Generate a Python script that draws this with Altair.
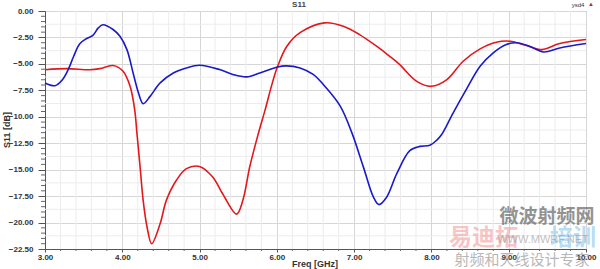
import altair as alt
import pandas as pd

# ---- data ----
red_f = [3.00, 3.28, 3.58, 3.71, 3.88, 4.01, 4.10, 4.16, 4.19, 4.23, 4.27, 4.32, 4.38,
         4.49, 4.57, 4.70, 4.83, 5.00, 5.17, 5.30, 5.48, 5.56, 5.65, 5.76, 5.85, 5.93,
         6.01, 6.13, 6.30, 6.62, 6.86, 7.07, 7.29, 7.46, 7.59, 7.81, 8.00, 8.20, 8.41,
         8.63, 8.84, 9.02, 9.23, 9.43, 9.66, 10.00]
red_v = [-5.55, -5.45, -5.55, -5.45, -5.16, -5.7, -7.1, -9.3, -11.6, -14.7, -17.9, -20.4, -22.0,
         -20.1, -17.9, -16.0, -14.9, -14.7, -15.7, -17.3, -19.2, -17.9, -14.7, -11.6, -9.3, -7.1,
         -5.23, -3.33, -2.05, -1.12, -1.44, -2.23, -3.33, -4.28, -5.07, -6.65, -7.12, -6.49, -4.75,
         -3.58, -2.95, -2.86, -3.27, -3.65, -3.08, -2.7]

blue_f = [3.00, 3.13, 3.22, 3.30, 3.37, 3.45, 3.54, 3.62, 3.69, 3.75, 3.88, 3.97, 4.06, 4.14,
          4.21, 4.27, 4.36, 4.49, 4.66, 4.83, 5.00, 5.26, 5.43, 5.61, 5.78, 6.01, 6.12, 6.30,
          6.47, 6.64, 6.82, 6.97, 7.12, 7.25, 7.32, 7.42, 7.55, 7.72, 7.85, 7.98, 8.07, 8.13,
          8.28, 8.45, 8.63, 8.80, 8.97, 9.10, 9.27, 9.45, 9.66, 10.00]
blue_v = [-6.8, -7.06, -6.55, -5.54, -4.3, -3.1, -2.6, -2.3, -1.6, -1.3, -1.75, -2.39, -3.65, -5.86,
          -7.75, -8.76, -8.07, -6.8, -5.86, -5.38, -5.13, -5.54, -6.0, -6.23, -5.86, -5.29, -5.19, -5.38,
          -6.0, -7.28, -9.0, -11.5, -14.76, -17.6, -18.3, -17.6, -15.4, -13.2, -12.8, -12.7, -12.2, -11.7,
          -9.65, -7.44, -5.23, -3.96, -3.17, -3.0, -3.33, -3.87, -3.49, -3.08]

x_major = [3, 4, 5, 6, 7, 8, 9, 10]
y_major = [0, -2.5, -5, -7.5, -10, -12.5, -15, -17.5, -20, -22.5]
x_minor = [round(3 + 0.2 * i, 2) for i in range(36) if i % 5]
y_minor_grid = [-1.25, -3.75, -6.25, -8.75, -11.25, -13.75, -16.25, -18.75, -21.25]
y_minor_ticks = [round(-0.5 * i, 2) for i in range(46) if i % 5]

W, H = 541, 238
FONT = "Liberation Sans"

lines_df = pd.DataFrame(
    {"f": red_f + blue_f, "v": red_v + blue_v,
     "s": ["red"] * len(red_f) + ["blue"] * len(blue_f)}
)

xscale = alt.Scale(domain=[3, 10], nice=False, zero=False)
yscale = alt.Scale(domain=[-22.5, 0], nice=False, zero=False)

xaxis = alt.Axis(values=x_major, format=".2f", title=None, grid=True, gridColor="#d6d6d6",
                 tickSize=3, tickColor="#555", domainColor="#555", labelPadding=1,
                 labelFont=FONT, labelFontSize=8, labelFontWeight="bold", labelColor="#333",
                 labelFlush=False)
yaxis = alt.Axis(values=y_major, format=".2f", title=None, grid=True, gridColor="#d6d6d6",
                 tickSize=7, tickColor="#555", domainColor="#555", labelPadding=5,
                 labelFont=FONT, labelFontSize=8, labelFontWeight="bold", labelColor="#333",
                 labelFlush=False)

X = alt.X("f:Q", scale=xscale, axis=xaxis)
Y = alt.Y("v:Q", scale=yscale, axis=yaxis)

grid_x = alt.Chart(pd.DataFrame({"f": x_minor})).mark_rule(color="#ececec", strokeWidth=1).encode(x=X)
grid_y = alt.Chart(pd.DataFrame({"v": y_minor_grid})).mark_rule(color="#ececec", strokeWidth=1).encode(y=Y)
tick_x = alt.Chart(pd.DataFrame({"f": x_minor})).mark_rule(color="#666", strokeWidth=1).encode(
    x=X, y=alt.value(H), y2=alt.value(H + 2))
tick_y = alt.Chart(pd.DataFrame({"v": y_minor_ticks})).mark_rule(color="#666", strokeWidth=1).encode(
    y=Y, x=alt.value(-4), x2=alt.value(0))

lines = alt.Chart(lines_df).mark_line(interpolate="catmull-rom", strokeWidth=1.6).encode(
    x=X, y=Y,
    color=alt.Color("s:N", scale=alt.Scale(domain=["red", "blue"], range=["#e3171c", "#1a1acb"]),
                    legend=None),
)

one = pd.DataFrame({"a": [0]})


def txt(text, x, y, size, color, weight="normal", angle=0, align="center", opacity=1.0, font=FONT):
    return alt.Chart(one).mark_text(
        text=text, fontSize=size, font=font, fontWeight=weight, color=color, angle=angle,
        align=align, baseline="middle", opacity=opacity,
    ).encode(x=alt.value(x), y=alt.value(y))


title = txt("S11", 254, -6, 8, "#444", "bold")
corner = txt("ysd4", 533, -6, 6, "#333")
tri = txt("▲", 546, -7, 6, "#a33")
xtitle = txt("Freq [GHz]", 270, 253, 9, "#333", "bold")
ytitle = txt("S11 [dB]", -38, 119, 9, "#333", "bold", angle=270)

CJK = "Noto Sans CJK SC"
wm1 = txt("微波射频网", 502, 206, 19, "#666", "bold", opacity=0.7, font=CJK)
wm2 = txt("易迪拓", 404, 227, 23, "#f4a0a0", "bold", align="left", opacity=0.6, font=CJK)
wm3 = txt("培训", 551, 227, 23, "#8cc8ec", "bold", align="right", opacity=0.6, font=CJK)
wm4 = txt("WWW.MWRF.NET", 498, 229, 11, "#999", opacity=0.6)
wm5 = txt("射频和天线设计专家", 477, 249, 15, "#888", opacity=0.6, font=CJK)

chart = alt.layer(
    grid_x, grid_y, tick_x, tick_y, lines, title, corner, tri, xtitle, ytitle,
    wm1, wm2, wm3, wm4, wm5,
).properties(
    width=W, height=H,
    autosize=alt.AutoSizeParams(type="none"),
    padding={"left": 45, "top": 11, "right": 14, "bottom": 20},
    background="white",
).configure_view(stroke="#999", strokeWidth=1)

chart.save("out.html", embed_options={"renderer": "svg", "actions": False})
